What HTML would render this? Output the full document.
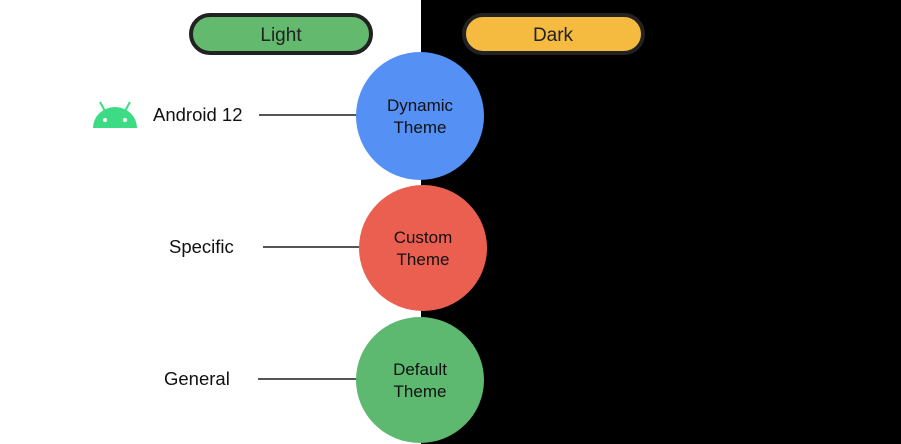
<!DOCTYPE html>
<html><head><meta charset="utf-8"><style>
html,body{margin:0;padding:0;background:#fff;}
svg{display:block;}
text{font-family:"Liberation Sans",sans-serif;}
</style></head><body>
<svg width="901" height="444" viewBox="0 0 901 444">
<rect x="0" y="0" width="901" height="444" fill="#fff"/>
<rect x="421" y="0" width="480" height="444" fill="#000"/>
<rect x="191" y="15" width="180" height="38" rx="19" fill="#63b96e" stroke="#222" stroke-width="4"/>
<text x="281" y="41" font-size="19" text-anchor="middle" fill="#222">Light</text>
<rect x="464" y="15" width="179" height="38" rx="19" fill="#f5bb41" stroke="#222" stroke-width="4"/>
<text x="553" y="41" font-size="19" text-anchor="middle" fill="#222">Dark</text>
<g stroke="#555" stroke-width="2">
<line x1="259" y1="115" x2="358" y2="115"/>
<line x1="263" y1="247" x2="361" y2="247"/>
<line x1="258" y1="379" x2="357" y2="379"/>
</g>
<ellipse cx="420" cy="116" rx="64" ry="64" fill="#5590f5"/>
<ellipse cx="423" cy="248" rx="64" ry="63" fill="#eb5f50"/>
<ellipse cx="420" cy="380" rx="64" ry="63" fill="#5db870"/>
<g font-size="17" text-anchor="middle" fill="#111">
<text x="420" y="111">Dynamic</text><text x="420" y="133">Theme</text>
<text x="423" y="243">Custom</text><text x="423" y="265">Theme</text>
<text x="420" y="375">Default</text><text x="420" y="397">Theme</text>
</g>
<g font-size="18.5" fill="#111">
<text x="153" y="121">Android 12</text>
<text x="169" y="253">Specific</text>
<text x="164" y="385">General</text>
</g>
<g fill="#3ddc84">
<path d="M93 128 A22 21 0 0 1 137 128 Z"/>
<line x1="100" y1="102" x2="105" y2="111" stroke="#3ddc84" stroke-width="2"/>
<line x1="130" y1="102" x2="125" y2="111" stroke="#3ddc84" stroke-width="2"/>
</g>
<circle cx="105" cy="120" r="2" fill="#fff"/>
<circle cx="125" cy="120" r="2" fill="#fff"/>
</svg>
</body></html>
